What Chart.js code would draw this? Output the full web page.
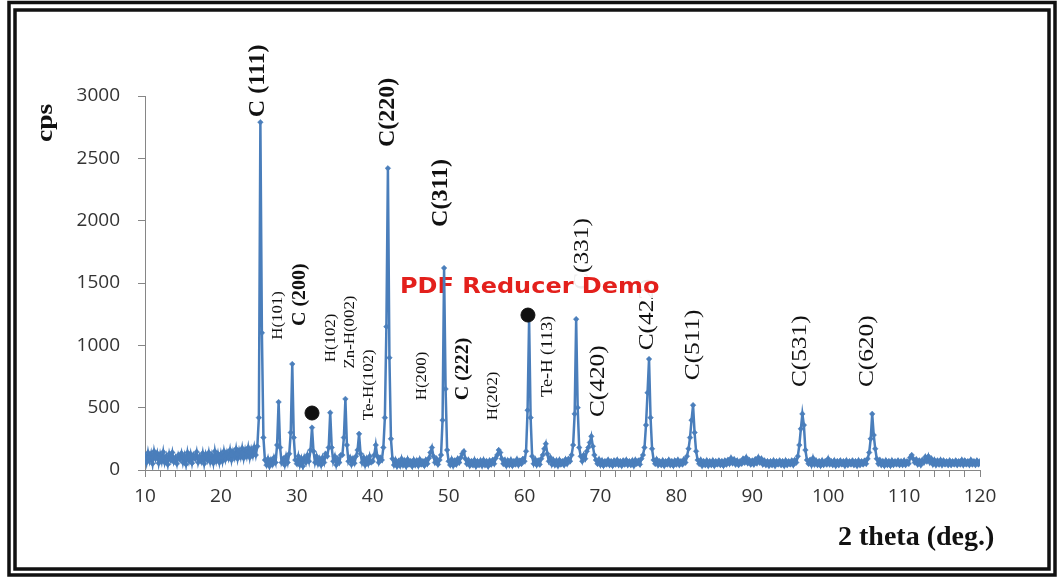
<!DOCTYPE html>
<html>
<head>
<meta charset="utf-8">
<script src="https://cdn.jsdelivr.net/npm/chart.js@4/dist/chart.umd.min.js"></script>
<style>
  html, body { margin: 0; padding: 0; background: #fff; }
  #wrap { width: 1060px; height: 580px; }
</style>
</head>
<body>
<div id="wrap"><canvas id="xrd" width="1060" height="580"></canvas></div>
<script>
// scan grid: 10 -> 120 deg, 0.2 deg per count
const twoThetaStart = 10
const twoThetaStep = 0.2

// counts per 10 deg block
const cps10 = [120,60,140,75,130,50,150,90,135,55, 125,70,145,60,110,45,130,80,140,65, 100,50,120,85,135,60,115,45,140,75, 130,55,120,90,145,60,110,70,135,50, 125,80,140,65,120,55,150,75,130,60]
const cps20 = [130,70,150,85,140,95,160,80,145,100, 170,90,155,105,175,95,160,110,180,100, 165,115,185,120,190,420,2790,1100,260,80, 40,90,30,80,45,100,60,200,545,180, 60,90,40,110,60,130,300,850,260,80]
const cps30 = [50,110,40,90,30,100,60,120,70,160, 340,150,60,110,50,90,40,100,60,130, 110,180,460,180,70,110,40,90,60,120, 120,260,570,200,70,100,45,90,55,110, 160,290,130,60,100,40,90,50,110,60]
const cps40 = [70,120,200,110,60,100,80,180,420,1150, 2420,900,250,90,40,80,30,70,35,90, 40,75,30,85,45,70,30,80,40,75, 35,85,45,70,35,80,50,95,140,180, 110,60,90,45,80,120,400,1620,650,160]
const cps50 = [70,40,85,35,75,45,90,60,100,130, 150,90,50,80,35,70,40,80,30,70, 40,75,35,80,40,70,30,75,45,80, 50,95,120,160,140,90,50,80,35,75, 40,80,35,70,45,85,40,75,50,90]
const cps60 = [70,150,480,1210,420,110,50,85,40,75, 45,90,120,170,210,130,70,100,45,80, 40,75,35,80,45,70,40,85,50,90, 70,120,200,450,1210,500,180,110,70,120, 90,150,180,220,270,190,120,80,50,85]
const cps70 = [40,75,35,70,45,80,40,70,35,75, 45,80,40,70,35,75,45,80,40,70, 40,75,35,80,50,75,45,90,120,180, 360,620,890,420,170,80,50,85,40,70, 40,75,35,70,45,80,40,70,35,75]
const cps80 = [45,80,40,70,45,85,60,110,170,260, 400,520,300,150,80,50,80,35,70,40, 75,35,70,40,75,35,70,45,75,40, 70,35,75,45,80,50,95,55,85,45, 75,40,70,50,90,60,100,55,80,45]
const cps90 = [75,45,85,55,100,60,90,45,75,40, 70,35,70,40,75,35,70,45,75,40, 70,35,75,40,70,45,75,40,80,60, 110,200,330,450,360,160,80,50,80,40, 95,45,75,40,70,35,75,40,70,45]
const cps100 = [90,45,70,40,75,35,70,40,75,45, 70,35,75,40,70,45,75,40,70,35, 75,40,70,45,75,50,90,140,250,450, 280,170,90,50,80,40,70,35,75,40, 70,35,75,40,70,45,75,40,70,40]
const cps110 = [75,40,70,50,100,120,90,60,85,45, 75,40,80,60,105,70,110,60,90,45, 80,40,75,45,80,40,75,45,70,40, 75,40,70,45,75,40,70,45,80,40, 75,45,70,40,80,45,70,40,75,45, 70]

// filled circles marking the unindexed reflections
const dotAngles = [32.0, 60.45]
const dotCounts = [457, 1243]

// axis ticks
const yTicks = [0, 500, 1000, 1500, 2000, 2500, 3000]
const xTickLabels = [10, 20, 30, 40, 50, 60, 70, 80, 90, 100, 110, 120]

// reflection names: angle, count level where the text starts, style
const peakTags = [
  ['C (111)', 24.9, 2830, 'big'],
  ['H(101)', 27.5, 1045, 'small'],
  ['C (200)', 30.4, 1155, 'mid'],
  ['H(102)', 34.6, 865, 'small'],
  ['Zn-H(002)', 37.1, 815, 'small'],
  ['Te-H(102)', 39.5, 400, 'small'],
  ['C(220)', 42.0, 2590, 'big'],
  ['H(200)', 46.5, 560, 'small'],
  ['C(311)', 49.0, 1950, 'big'],
  ['C (222)', 51.9, 560, 'mid'],
  ['H(202)', 55.85, 400, 'small'],
  ['Te-H (113)', 63.1, 585, 'te'],
  ['C(331)', 67.55, 1445, 'reg'],
  ['C(420)', 69.7, 425, 'reg'],
  ['C(422)', 76.1, 960, 'reg'],
  ['C(511)', 82.2, 720, 'reg'],
  ['C(531)', 96.3, 665, 'reg'],
  ['C(620)', 105.1, 665, 'reg']
]

const tagStyles = {
  big:   { font: 'bold 24px "Liberation Serif"', stretch: 1.0 },
  mid:   { font: 'bold 19px "Liberation Serif"', stretch: 1.05 },
  reg:   { font: '22px "Liberation Serif"', stretch: 1.15 },
  small: { font: '14px "Liberation Serif"', stretch: 1.2 },
  te:    { font: '16px "Liberation Serif"', stretch: 1.15 }
}

const cps = [].concat(cps10, cps20, cps30, cps40, cps50, cps60, cps70, cps80, cps90, cps100, cps110)
const pattern = cps.map((v, i) => ({ x: +(twoThetaStart + i * twoThetaStep).toFixed(1), y: v }))
const dots = dotAngles.map((a, i) => ({ x: a, y: dotCounts[i] }))

const lineBlue = '#4a7ebb'
const axisGrey = '#868686'
const tickFont = { family: '"Open Sans"', size: 19 }

// frame, titles, reflection names and the stamp
const decor = {
  id: 'decor',
  beforeDraw(chart) {
    const ctx = chart.ctx
    ctx.save()
    ctx.fillStyle = '#fff'
    ctx.fillRect(0, 0, chart.width, chart.height)
    ctx.strokeStyle = '#111'
    ctx.lineWidth = 3.5
    ctx.strokeRect(9, 2.5, 1046, 572.5)
    ctx.strokeRect(15, 10, 1034, 559)
    ctx.restore()
  },
  beforeDatasetsDraw(chart) {
    const ctx = chart.ctx
    const xs = chart.scales.x, ys = chart.scales.y
    ctx.save()
    ctx.fillStyle = '#111'
    ctx.textAlign = 'left'
    ctx.textBaseline = 'middle'
    peakTags.forEach(([txt, ang, lvl, st]) => {
      const s = tagStyles[st]
      ctx.save()
      ctx.translate(xs.getPixelForValue(ang), ys.getPixelForValue(lvl))
      ctx.rotate(-Math.PI / 2)
      ctx.scale(s.stretch, 1)
      ctx.font = s.font
      ctx.fillText(txt, 0, 0)
      ctx.restore()
    })

    // y title
    ctx.save()
    ctx.translate(46, 142)
    ctx.rotate(-Math.PI / 2)
    ctx.scale(1.15, 1)
    ctx.font = 'bold 24px "Liberation Serif"'
    ctx.fillText('cps', 0, 0)
    ctx.restore()

    // x title
    ctx.textBaseline = 'alphabetic'
    ctx.font = 'bold 28px "Liberation Serif"'
    ctx.fillText('2 theta (deg.)', 838, 545)

    // stamp
    ctx.fillStyle = 'rgba(255,255,255,0.92)'
    ctx.fillRect(398, 274, 286, 24)
    ctx.save()
    ctx.translate(400, 293)
    ctx.scale(1.09, 1)
    ctx.fillStyle = '#e3201c'
    ctx.font = 'bold 22px "DejaVu Sans"'
    ctx.fillText('PDF Reducer Demo', 0, 0)
    ctx.restore()
    ctx.restore()
  }
}

new Chart(document.getElementById('xrd').getContext('2d'), {
  type: 'scatter',
  data: {
    datasets: [
      {
        data: dots,
        showLine: false,
        pointRadius: 7,
        pointBackgroundColor: '#111',
        pointBorderColor: '#111',
        order: 0
      },
      {
        data: pattern,
        showLine: true,
        borderColor: lineBlue,
        borderWidth: 2.5,
        pointStyle: 'rectRot',
        pointRadius: 2.8,
        pointBackgroundColor: lineBlue,
        pointBorderColor: lineBlue,
        pointBorderWidth: 0.5,
        tension: 0,
        order: 1
      }
    ]
  },
  options: {
    responsive: false,
    animation: false,
    events: [],
    layout: { padding: { left: 0, right: 80, top: 96, bottom: 0 } },
    plugins: { legend: { display: false }, tooltip: { enabled: false } },
    scales: {
      x: {
        type: 'linear',
        min: 10,
        max: 120,
        afterFit: s => { s.height = 110 },
        afterBuildTicks: s => {
          const t = []
          for (let v = 10; v <= 120; v += 2) t.push({ value: v })
          s.ticks = t
        },
        ticks: {
          autoSkip: false,
          maxRotation: 0,
          padding: 8,
          color: '#333',
          font: tickFont,
          callback: v => xTickLabels.includes(v) ? String(v) : ''
        },
        grid: { drawOnChartArea: false, drawTicks: true, tickLength: 7, color: axisGrey },
        border: { display: true, color: axisGrey, width: 1 }
      },
      y: {
        min: 0,
        max: 3000,
        afterFit: s => { s.width = 145 },
        afterBuildTicks: s => { s.ticks = yTicks.map(v => ({ value: v })) },
        ticks: {
          padding: 18,
          color: '#333',
          font: tickFont,
          callback: v => String(v)
        },
        grid: { drawOnChartArea: false, drawTicks: true, tickLength: 7, color: axisGrey },
        border: { display: true, color: axisGrey, width: 1 }
      }
    }
  },
  plugins: [decor]
})
</script>
</body>
</html>
